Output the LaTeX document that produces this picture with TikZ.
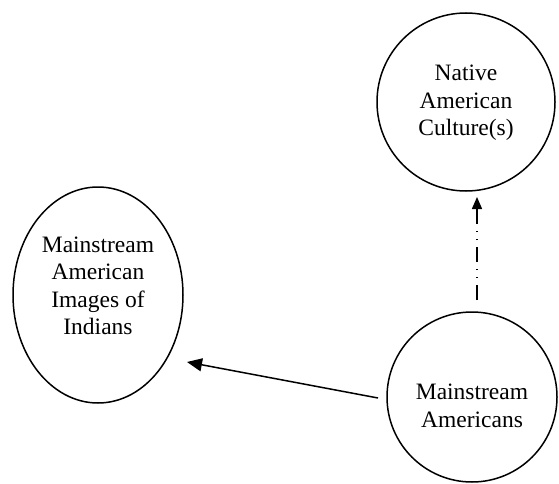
\documentclass[tikz,border=0pt]{standalone}
\usepackage{fontspec}
\setmainfont{Liberation Serif}
\usetikzlibrary{arrows.meta,shapes.geometric}
\begin{document}
\begin{tikzpicture}[x=1pt,y=-1pt,
  lbl/.style={align=center,font=\fontsize{23.5}{27.5}\selectfont,inner sep=0pt},
  bubble/.style={draw,line width=1.5pt,circle,inner sep=0pt},
  oval/.style={draw,line width=1.5pt,ellipse,inner sep=0pt},
  arr/.style={line width=1.5pt,-{Triangle[length=15pt,width=13pt]}},
  ddarr/.style={line width=1.5pt,dash pattern=on 15pt off 7pt on 1pt off 7pt on 1pt off 7pt,-{Triangle[length=12pt,width=10pt]}}]
\useasboundingbox (0,0) rectangle (559,484);
\node[bubble,minimum size=178pt] (nac) at (466,102) {};
\node[lbl] (nact) at (466,103) {Native\\American\\Culture(s)};
\node[oval,minimum width=170pt,minimum height=216pt] (img) at (98,295) {};
\node[lbl] (imgt) at (98,286) {Mainstream\\American\\Images of\\Indians};
\node[bubble,minimum size=170pt] (ma) at (472,397) {};
\node[lbl] (mat) at (472,406) {Mainstream\\Americans};
\coordinate (tip) at (187,362);
\coordinate (start) at (378,398);
\draw[arr] (start) -- (tip);
\coordinate (d0) at (477,300);
\coordinate (d1) at (477,197);
\draw[ddarr] (d0) -- (d1);
\end{tikzpicture}
\end{document}
